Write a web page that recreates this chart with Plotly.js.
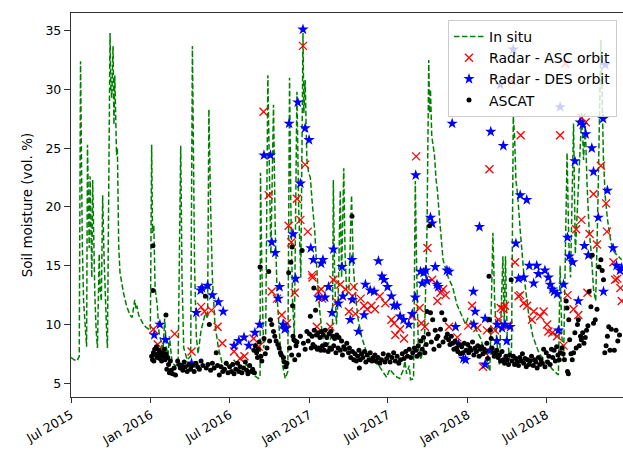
<!DOCTYPE html>
<html>
<head>
<meta charset="utf-8">
<script src="https://cdn.plot.ly/plotly-3.0.1.min.js"></script>
<style>html,body{margin:0;padding:0;background:#fff;}#chart{width:623px;height:453px;}</style>
</head>
<body>
<div id="chart"></div>
<script>
// ---- In situ soil moisture (daily probe, dashed green line) ----
var insituDates = ["2015-07-01","2015-07-08","2015-07-15","2015-07-20","2015-07-23","2015-07-25","2015-07-27","2015-07-30","2015-08-03","2015-08-06","2015-08-08","2015-08-10","2015-08-12","2015-08-14","2015-08-16","2015-08-18","2015-08-20","2015-08-22","2015-08-25","2015-08-28","2015-08-31","2015-09-04","2015-09-06","2015-09-09","2015-09-12","2015-09-15","2015-09-18","2015-09-21","2015-09-23","2015-09-29","2015-10-01","2015-10-03","2015-10-06","2015-10-08","2015-10-10","2015-10-12","2015-10-14","2015-10-16","2015-10-17","2015-10-19","2015-10-22","2015-10-26","2015-10-30","2015-11-06","2015-11-14","2015-11-19","2015-11-25","2015-11-28","2015-11-30","2015-12-04","2015-12-08","2015-12-15","2015-12-20","2015-12-26","2015-12-31",
"2016-01-03","2016-01-05","2016-01-08","2016-01-11","2016-01-16","2016-01-20","2016-01-25","2016-01-29","2016-02-02","2016-02-06","2016-02-10","2016-02-13","2016-02-19","2016-02-26","2016-03-04","2016-03-10","2016-03-13","2016-03-17","2016-03-25","2016-04-02","2016-04-06","2016-04-08","2016-04-11","2016-04-15","2016-04-19","2016-04-26","2016-05-02","2016-05-06","2016-05-11","2016-05-14","2016-05-18","2016-05-22","2016-05-28","2016-06-05","2016-06-13","2016-06-20","2016-06-30","2016-07-10","2016-07-20","2016-07-30","2016-08-09","2016-08-19","2016-08-29","2016-09-05","2016-09-09","2016-09-10","2016-09-13","2016-09-17","2016-09-22","2016-09-27","2016-10-01","2016-10-04","2016-10-10","2016-10-14","2016-10-19","2016-10-25","2016-10-31","2016-11-06","2016-11-12","2016-11-16","2016-11-19","2016-11-23","2016-11-27","2016-12-03","2016-12-07","2016-12-12","2016-12-17","2016-12-19","2016-12-22","2016-12-26","2016-12-30",
"2017-01-03","2017-01-07","2017-01-13","2017-01-19","2017-01-25","2017-01-31","2017-02-06","2017-02-16","2017-02-23","2017-02-25","2017-02-28","2017-03-04","2017-03-08","2017-03-13","2017-03-16","2017-03-21","2017-03-24","2017-03-28","2017-04-02","2017-04-08","2017-04-12","2017-04-17","2017-04-23","2017-05-01","2017-05-11","2017-05-21","2017-05-31","2017-06-10","2017-06-20","2017-06-28","2017-07-05","2017-07-18","2017-07-28","2017-08-06","2017-08-09","2017-08-13","2017-08-19","2017-08-22","2017-08-29","2017-09-02","2017-09-05","2017-09-09","2017-09-15","2017-09-23","2017-09-29","2017-10-03","2017-10-05","2017-10-07","2017-10-10","2017-10-13","2017-10-16","2017-10-20","2017-10-23","2017-10-28","2017-11-05","2017-11-17","2017-11-27","2017-12-07","2017-12-17","2017-12-27",
"2018-01-01","2018-01-11","2018-01-21","2018-01-31","2018-02-10","2018-02-17","2018-02-21","2018-02-28","2018-03-04","2018-03-09","2018-03-15","2018-03-23","2018-03-26","2018-03-29","2018-04-02","2018-04-08","2018-04-12","2018-04-16","2018-04-19","2018-04-22","2018-04-26","2018-05-02","2018-05-11","2018-05-21","2018-05-31","2018-06-15","2018-06-30","2018-07-15","2018-07-29","2018-08-02","2018-08-06","2018-08-10","2018-08-18","2018-08-22","2018-08-26","2018-08-29","2018-09-02","2018-09-06","2018-09-11","2018-09-17","2018-09-21","2018-09-25","2018-09-29","2018-10-03","2018-10-08","2018-10-13","2018-10-18","2018-10-23","2018-10-28","2018-11-04","2018-11-07","2018-11-10","2018-11-14","2018-11-19","2018-11-25","2018-11-30","2018-12-06","2018-12-22"];
var insituValues = [7.2,7.0,6.9,7.3,32.4,24,17,12,9.5,8.1,25.3,19,16.5,22.6,17,14,22.3,17,12.5,9.5,8.0,16.0,13,12,21,16,12,9.5,8.0,34.8,30,29.3,33.7,27,31.2,26,24.4,25,19.6,16.7,14.4,13.4,12.7,11.6,10.8,10.6,12.1,11.3,11.6,10.8,10.5,10.0,9.8,9.6,9.5,
25.3,17.8,18.4,13.1,11.6,9.3,8.5,7.5,10.5,8.0,7.4,9.0,6.8,6.5,6.6,25.2,14,8.0,7.0,7.3,33.7,25,15,9,7.5,9.5,10.5,11,10.5,28.3,20,14,10,8.0,6.8,6.7,6.3,7.0,6.5,6.3,6.6,5.9,5.6,5.4,5.5,22.9,15,8,9,31.2,22,16,28.7,18,12,8.5,6.5,5.4,6.0,31,20,12,9,29.8,20,14,34.8,28,30.8,24,22.9,
22.5,20.5,18,14,11,9,8.0,8.5,9.2,22.3,14,10,12,21.4,14,23.3,16,12.5,13,21,15,12.5,10.5,9,7.8,7.2,6.8,6.5,6.0,5.5,6.2,5.6,5.4,6.2,6.9,5.8,6.5,5.3,5.4,22.2,15,8,7,8.5,18,32.5,28,30,26,25,24.5,22.3,21.4,19,15.5,14,13.2,11.7,10.8,10.0,
10.5,10.2,9.5,8.8,7.5,6.5,6.0,17.8,12,8.5,6.5,15.8,10,15.8,9,7,8,27.7,26,22.3,21,18,14,11,9,7.5,6.8,6.2,5.7,15,9,7,24.6,17,14,20,27.1,16,20,26,28,24,27,22,18,16,13,12,20,34.2,27.5,24,20.9,19,17.5,16.5,16.1,15.5];

// ---- Radar, ascending orbit (red x) ----
var ascDates = ["2016-01-07","2016-01-17","2016-02-25","2016-04-04","2016-04-26","2016-05-04","2016-05-20","2016-06-03","2016-06-14","2016-07-11","2016-07-25","2016-08-04","2016-08-25","2016-09-06","2016-09-17","2016-09-29","2016-10-06","2016-10-18","2016-10-29","2016-11-10","2016-11-14","2016-11-20","2016-11-28","2016-12-03","2016-12-11","2016-12-17","2016-12-22","2016-12-28",
"2017-01-07","2017-01-08","2017-01-18","2017-01-22","2017-01-28","2017-01-30","2017-02-18","2017-02-25","2017-03-05","2017-03-13","2017-03-25","2017-04-02","2017-04-10","2017-04-13","2017-04-17","2017-04-29","2017-05-07","2017-05-14","2017-05-24","2017-06-01","2017-06-12","2017-06-25","2017-07-09","2017-07-15","2017-07-18","2017-07-29","2017-08-07","2017-08-26","2017-09-04","2017-09-12","2017-09-16","2017-09-24","2017-09-30","2017-10-11","2017-10-23","2017-10-30","2017-11-05","2017-11-11","2017-11-19","2017-12-08",
"2018-01-02","2018-01-11","2018-01-23","2018-02-05","2018-02-10","2018-02-14","2018-02-20","2018-03-05","2018-03-13","2018-03-18","2018-03-24","2018-03-28","2018-04-05","2018-04-13","2018-04-20","2018-04-28","2018-05-02","2018-05-03","2018-05-10","2018-05-18","2018-05-29","2018-06-02","2018-06-17","2018-06-25","2018-07-03","2018-07-06","2018-07-15","2018-07-26","2018-08-02","2018-08-10","2018-08-14","2018-08-19","2018-09-02","2018-09-08","2018-09-13","2018-09-20","2018-09-21","2018-09-30","2018-10-04","2018-10-09","2018-10-18","2018-10-26","2018-11-04","2018-11-16","2018-11-18","2018-12-03","2018-12-07","2018-12-12","2018-12-19","2018-12-22"];
var ascValues = [9.6,8.3,9.2,7.7,11.5,11.1,11.2,9.8,8.4,7.7,7.1,7.3,8.8,8.1,28.1,21.0,12.8,12.2,10.8,10.1,18.4,17.0,12.7,20.7,18.9,33.7,23.6,17.9,
14.2,14.0,9.8,12.8,13.0,12.2,9.8,13.8,11.9,13.4,13.0,11.1,12.4,13.2,10.9,12.2,11.6,11.3,11.6,11.3,12.4,11.8,10.4,10.1,9.1,9.6,8.8,10.7,24.3,11.4,10.1,9.8,16.5,13.8,12.0,12.7,13.0,12.5,9.8,8.9,
9.9,11.6,9.7,6.4,7.6,9.5,23.2,9.5,10.4,11.4,11.3,11.6,9.9,30.7,15.3,12.4,12.5,26.1,11.8,11.6,10.4,11.1,10.7,11.1,10.0,9.4,9.3,9.0,26.1,8.2,32.2,12.5,11.3,18.1,10.8,18.9,27.6,27.2,12.7,17.7,21.1,16.8,23.5,20.3,17.9,15.3,13.8,13.9,13.1,12.0];

// ---- Radar, descending orbit (blue star) ----
var desDates = ["2016-01-09","2016-01-22","2016-02-04","2016-04-04","2016-04-15","2016-04-25","2016-04-28","2016-05-11","2016-05-22","2016-06-05","2016-06-16","2016-07-11","2016-07-22","2016-08-03","2016-08-14","2016-08-28","2016-09-08","2016-09-18","2016-10-03","2016-10-06","2016-10-14","2016-10-21","2016-10-24","2016-11-01","2016-11-05","2016-11-08","2016-11-15","2016-11-24","2016-11-30","2016-12-05","2016-12-11","2016-12-17","2016-12-22","2016-12-31",
"2017-01-04","2017-01-10","2017-01-22","2017-01-28","2017-02-01","2017-02-06","2017-02-14","2017-02-22","2017-02-25","2017-03-09","2017-03-17","2017-03-19","2017-04-05","2017-04-09","2017-04-10","2017-04-24","2017-05-07","2017-05-10","2017-05-21","2017-05-30","2017-06-09","2017-06-17","2017-06-22","2017-06-30","2017-07-09","2017-07-15","2017-07-22","2017-07-29","2017-08-06","2017-08-18","2017-08-26","2017-09-02","2017-09-03","2017-09-14","2017-09-18","2017-09-21","2017-09-26","2017-09-29","2017-10-07","2017-10-11","2017-10-18","2017-10-22","2017-10-25","2017-11-14","2017-11-19","2017-11-26","2017-12-04","2017-12-11","2017-12-22","2017-12-27",
"2018-01-14","2018-01-15","2018-01-18","2018-01-28","2018-02-10","2018-02-10","2018-02-22","2018-02-23","2018-03-09","2018-03-10","2018-03-17","2018-03-21","2018-03-24","2018-03-28","2018-04-01","2018-04-09","2018-04-16","2018-04-22","2018-04-28","2018-05-02","2018-05-10","2018-05-17","2018-05-23","2018-06-02","2018-06-09","2018-06-13","2018-06-28","2018-07-06","2018-07-10","2018-07-15","2018-07-19","2018-07-26","2018-07-29","2018-08-02","2018-08-10","2018-08-19","2018-08-23","2018-08-31","2018-09-05","2018-09-13","2018-09-17","2018-09-23","2018-09-27","2018-09-30","2018-10-06","2018-10-14","2018-10-18","2018-10-29","2018-11-09","2018-11-10","2018-11-14","2018-11-19","2018-12-02","2018-12-10","2018-12-18","2018-12-22"];
var desValues = [9.1,10.0,8.7,6.7,11.0,12.9,13.1,13.3,12.5,11.9,11.1,8.2,8.6,8.9,8.2,9.3,10.0,24.4,24.4,17.0,16.1,12.2,13.2,10.0,9.6,9.7,27.1,17.7,13.9,28.9,22.0,35.1,26.7,25.7,
16.5,15.5,12.3,15.2,15.5,12.3,13.2,11.0,16.4,11.8,14.9,12.4,10.4,15.5,12.1,9.4,10.8,13.4,12.9,12.8,15.4,14.1,13.8,13.2,12.4,11.6,11.6,10.7,10.4,10.0,10.9,12.3,22.7,14.5,13.5,14.4,14.6,13.7,19.1,18.6,14.9,13.4,13.2,14.6,14.5,27.1,9.8,8.3,7.1,7.0,
12.8,10.0,11.1,18.3,6.6,10.5,7.8,26.4,8.6,10.0,30.4,9.7,25.2,10.0,8.6,9.8,33.4,16.9,13.9,21.0,14.0,20.6,15.0,13.5,15.0,14.3,14.6,14.0,13.4,13.0,12.8,12.6,9.5,28.5,13.4,17.4,15.8,15.3,23.9,12.0,27.2,27.0,16.7,26.2,15.9,25.0,23.0,19.1,27.5,12.8,32.1,21.4,16.5,15.0,14.6,14.8];

// ---- ASCAT (black dots) ----
var ascatDates = ["2016-01-03","2016-01-05","2016-01-06","2016-01-06","2016-01-07","2016-01-08","2016-01-10","2016-01-12","2016-01-14","2016-01-16","2016-01-18","2016-01-20","2016-01-22","2016-01-24","2016-01-26","2016-01-28","2016-01-30","2016-02-01","2016-02-03","2016-02-05","2016-02-05","2016-02-07","2016-02-09","2016-02-11","2016-02-13","2016-02-15","2016-02-17","2016-02-20","2016-02-24","2016-02-27",
"2016-03-03","2016-03-06","2016-03-09","2016-03-12","2016-03-15","2016-03-18","2016-03-21","2016-03-25","2016-03-29","2016-04-02","2016-04-06","2016-04-10","2016-04-14","2016-04-18","2016-04-22","2016-04-26","2016-04-30","2016-05-06","2016-05-08","2016-05-12","2016-05-15","2016-05-18","2016-05-22","2016-05-26","2016-05-31","2016-06-03","2016-06-07","2016-06-11","2016-06-15","2016-06-19","2016-06-23","2016-06-27",
"2016-07-01","2016-07-05","2016-07-08","2016-07-11","2016-07-15","2016-07-19","2016-07-22","2016-07-25","2016-07-29","2016-08-02","2016-08-06","2016-08-09","2016-08-12","2016-08-16","2016-08-20","2016-08-23","2016-08-26","2016-08-27","2016-08-29","2016-09-01","2016-09-03","2016-09-05","2016-09-07","2016-09-09","2016-09-11","2016-09-13","2016-09-18","2016-09-21","2016-09-25","2016-09-29","2016-10-01",
"2016-10-03","2016-10-06","2016-10-10","2016-10-13","2016-10-16","2016-10-20","2016-10-23","2016-10-26","2016-10-28","2016-11-02","2016-11-04","2016-11-07","2016-11-10","2016-11-14","2016-11-16","2016-11-19","2016-11-21","2016-11-22","2016-11-23","2016-11-24","2016-11-26","2016-11-28","2016-11-29","2016-12-01","2016-12-03","2016-12-07","2016-12-11","2016-12-15","2016-12-18","2016-12-22","2016-12-26","2016-12-29",
"2017-01-01","2017-01-03","2017-01-05","2017-01-07","2017-01-09","2017-01-11","2017-01-12","2017-01-14","2017-01-15","2017-01-17","2017-01-19","2017-01-21","2017-01-23","2017-01-25","2017-01-27","2017-01-29","2017-01-31","2017-02-02","2017-02-04","2017-02-06","2017-02-08","2017-02-10","2017-02-13","2017-02-15","2017-02-17","2017-02-19","2017-02-21","2017-02-24","2017-02-26","2017-02-28","2017-03-03","2017-03-05","2017-03-08","2017-03-10","2017-03-13","2017-03-16","2017-03-18","2017-03-21","2017-03-24","2017-03-28","2017-04-01","2017-04-03","2017-04-06","2017-04-09","2017-04-10","2017-04-13","2017-04-16","2017-04-19","2017-04-22","2017-04-25","2017-04-26","2017-04-28","2017-05-01","2017-05-04","2017-05-08","2017-05-11","2017-05-14","2017-05-18","2017-05-21","2017-05-25","2017-05-28",
"2017-06-01","2017-06-04","2017-06-08","2017-06-12","2017-06-16","2017-06-20","2017-06-24","2017-06-28","2017-07-02","2017-07-06","2017-07-10","2017-07-14","2017-07-18","2017-07-22","2017-07-26","2017-07-30","2017-08-03","2017-08-07","2017-08-11","2017-08-15","2017-08-19","2017-08-23","2017-08-27","2017-08-31",
"2017-09-03","2017-09-06","2017-09-09","2017-09-12","2017-09-15","2017-09-18","2017-09-21","2017-09-24","2017-09-27","2017-09-29","2017-10-02","2017-10-05","2017-10-07","2017-10-09","2017-10-12","2017-10-15","2017-10-18","2017-10-21","2017-10-24","2017-10-27","2017-10-30","2017-11-02","2017-11-05","2017-11-09","2017-11-12","2017-11-15","2017-11-18","2017-11-21","2017-11-24","2017-11-27","2017-11-30","2017-12-03","2017-12-06","2017-12-09","2017-12-12","2017-12-15","2017-12-18","2017-12-21","2017-12-24","2017-12-28",
"2018-01-01","2018-01-03","2018-01-06","2018-01-09","2018-01-12","2018-01-15","2018-01-18","2018-01-21","2018-01-24","2018-01-27","2018-01-30","2018-02-02","2018-02-05","2018-02-08","2018-02-11","2018-02-14","2018-02-16","2018-02-19","2018-02-20","2018-02-22","2018-02-24","2018-02-26","2018-03-01","2018-03-03","2018-03-06","2018-03-09","2018-03-12","2018-03-15","2018-03-18","2018-03-21","2018-03-24","2018-03-27","2018-03-30",
"2018-04-02","2018-04-05","2018-04-08","2018-04-11","2018-04-13","2018-04-16","2018-04-19","2018-04-22","2018-04-25","2018-04-28","2018-05-01","2018-05-04","2018-05-07","2018-05-10","2018-05-13","2018-05-16","2018-05-19","2018-05-22","2018-05-25","2018-05-28","2018-06-01","2018-06-04","2018-06-07","2018-06-10","2018-06-13","2018-06-16","2018-06-19","2018-06-22","2018-06-25","2018-06-28","2018-07-01","2018-07-04","2018-07-07","2018-07-10",
"2018-07-13","2018-07-16","2018-07-19","2018-07-22","2018-07-25","2018-07-28","2018-07-31","2018-08-03","2018-08-06","2018-08-09","2018-08-12","2018-08-16","2018-08-18","2018-08-19","2018-08-21","2018-08-22","2018-08-24","2018-08-27","2018-08-30","2018-09-02","2018-09-05","2018-09-08","2018-09-11","2018-09-13","2018-09-15","2018-09-18","2018-09-20","2018-09-23","2018-09-26","2018-09-29","2018-10-02","2018-10-05","2018-10-08","2018-10-12","2018-10-15","2018-10-18","2018-10-22","2018-10-26","2018-10-31","2018-11-04","2018-11-07","2018-11-10","2018-11-13","2018-11-16","2018-11-19","2018-11-22","2018-11-25","2018-11-28","2018-12-05","2018-12-09","2018-12-13","2018-12-17"];
var ascatValues = [7.3,7.0,16.7,12.9,7.6,6.9,7.9,7.4,8.1,7.2,7.5,7.8,7.1,7.4,6.9,7.6,7.3,7.9,7.0,10.8,7.5,6.2,7.2,6.6,5.9,6.9,6.1,5.8,6.3,5.7,
6.9,6.6,6.3,6.5,6.1,6.8,6.4,6.0,6.6,6.2,6.5,6.0,6.7,6.4,6.2,6.9,6.5,12.4,6.3,6.6,10.0,6.1,6.7,6.3,7.6,6.5,5.7,6.4,6.0,6.2,6.7,5.9,
6.4,6.0,6.6,5.8,6.2,6.7,6.0,6.4,5.9,6.3,6.8,6.1,5.8,6.5,6.0,6.2,7.8,5.9,8.2,7.6,7.2,7.9,8.5,14.9,7.3,6.9,8.8,7.5,8.0,14.5,8.6,
10.4,10.0,9.4,9.0,8.6,8.3,8.0,7.6,7.4,7.2,6.8,6.4,6.7,14.4,8.0,15.3,7.4,16.6,11.6,9.0,8.7,7.0,8.6,8.2,8.5,7.4,9.0,16.3,8.4,7.9,9.4,8.6,
9.2,10.7,8.0,9.0,8.3,13.1,9.5,8.1,11.2,9.1,7.9,9.3,8.0,8.9,7.8,9.4,8.2,9.1,7.8,9.5,8.3,8.9,7.7,9.2,8.0,9.4,7.9,9.0,8.2,8.8,7.6,9.1,8.0,8.9,7.8,8.6,7.4,8.1,7.9,8.4,7.6,8.0,7.2,19.2,7.7,7.0,7.5,6.9,7.3,7.8,6.3,7.0,7.5,7.2,7.7,6.8,7.4,7.0,7.6,6.9,7.2,
7.4,6.9,7.2,6.7,7.0,7.5,6.8,7.1,7.4,6.8,7.2,7.6,6.9,7.3,6.7,7.0,7.5,7.1,7.7,7.3,7.9,7.2,7.6,8.0,
7.8,7.3,8.2,7.5,8.6,7.9,8.9,7.6,8.3,11.1,9.2,18.4,11.0,8.5,10.4,7.9,9.5,8.8,9.0,8.2,9.6,11.0,8.5,10.4,8.9,9.2,8.7,8.3,9.0,8.4,7.9,8.6,8.0,7.7,8.3,7.5,8.1,7.6,8.4,7.8,
8.3,7.6,8.0,7.8,8.5,7.4,8.0,7.7,8.2,7.3,7.9,8.1,7.5,7.9,7.7,8.4,7.1,14.1,10.4,9.5,8.8,8.0,7.6,7.3,7.5,7.8,7.2,7.4,6.9,7.7,7.0,6.7,7.3,
7.0,6.6,7.4,13.8,6.9,7.3,6.6,7.1,6.8,6.5,7.2,6.9,7.5,6.7,7.1,6.4,7.0,6.6,6.9,7.3,6.5,7.0,6.8,6.3,7.2,6.6,7.0,6.7,7.9,6.4,7.6,6.8,7.3,6.6,
7.9,7.2,7.8,6.9,8.1,7.4,7.0,7.6,8.0,7.5,7.0,12.0,11.4,6.0,5.8,10.4,8.7,7.5,7.0,7.6,9.3,8.0,10.0,10.4,8.2,9.0,8.7,9.3,8.4,8.9,9.5,9.9,12.8,11.5,15.9,10.1,10.4,11.3,14.9,15.5,14.6,13.8,7.6,8.2,9.0,9.8,7.8,9.6,7.8,9.5,8.6,9.1];

var tickVals = ["2015-07-01","2016-01-01","2016-07-01","2017-01-01","2017-07-01","2018-01-01","2018-07-01"];
var tickText = ["Jul 2015","Jan 2016","Jul 2016","Jan 2017","Jul 2017","Jan 2018","Jul 2018"];
var yTicks = [5,10,15,20,25,30,35];

var traces = [
  {x: insituDates, y: insituValues, name: "In situ", type: "scatter", mode: "lines",
   line: {color: "#008000", width: 1.5, dash: "5.5px,2.5px"}},
  {x: ascDates, y: ascValues, name: "Radar - ASC orbit", type: "scatter", mode: "markers",
   marker: {symbol: "x-thin-open", size: 8, color: "#ff0000", line: {color: "#ff0000", width: 1.3}}},
  {x: desDates, y: desValues, name: "Radar - DES orbit", type: "scatter", mode: "markers",
   marker: {symbol: "star", size: 8.5, color: "#0000ff", line: {width: 0}}},
  {x: ascatDates, y: ascatValues, name: "ASCAT", type: "scatter", mode: "markers",
   marker: {symbol: "circle", size: 5, color: "#000000", line: {width: 0}}}
];

var layout = {
  width: 623, height: 453,
  margin: {l: 71, r: 0, t: 13, b: 56, pad: 0},
  paper_bgcolor: "#ffffff", plot_bgcolor: "#ffffff",
  font: {family: "DejaVu Sans", size: 12.5, color: "#000000"},
  showlegend: true,
  legend: {x: 0.683, y: 0.982, xanchor: "left", yanchor: "top",
           bgcolor: "rgba(255,255,255,0.8)", bordercolor: "#cccccc", borderwidth: 1,
           font: {family: "DejaVu Sans", size: 14, color: "#000"}, tracegroupgap: 0},
  xaxis: {type: "date", range: ["2015-07-01", "2018-12-25"], tickmode: "array",
          tickvals: tickVals, ticktext: tickText, tickangle: -30,
          ticks: "outside", ticklen: 5, tickwidth: 1, tickcolor: "#333",
          showline: true, mirror: true, linecolor: "#333", linewidth: 1.2,
          showgrid: false, zeroline: false, tickfont: {size: 12.5}},
  yaxis: {range: [3.83, 36.5], tickmode: "array", tickvals: yTicks,
          ticks: "outside", ticklen: 6, tickwidth: 1, tickcolor: "#333",
          showline: true, mirror: true, linecolor: "#333", linewidth: 1.2,
          showgrid: false, zeroline: false, tickfont: {size: 12.5},
          title: {text: "Soil moisture (vol. %)", font: {size: 13.5}, standoff: 9}}
};

Plotly.newPlot("chart", traces, layout, {staticPlot: true, displayModeBar: false});
</script>
</body>
</html>
